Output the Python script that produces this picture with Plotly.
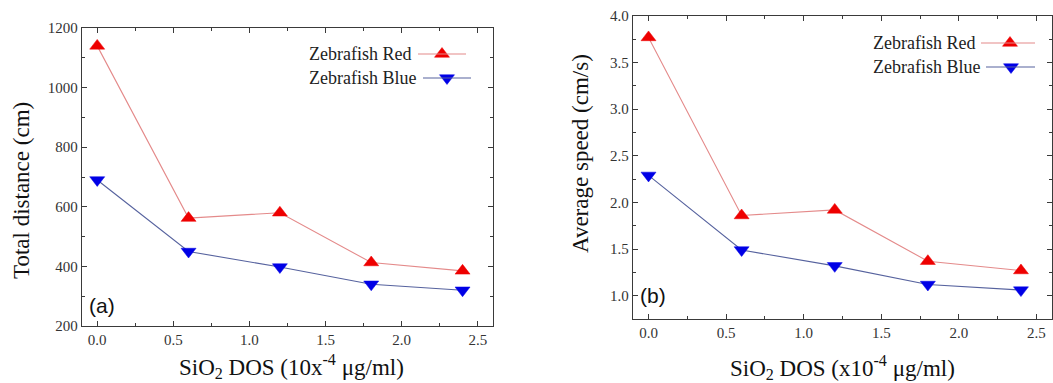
import plotly.graph_objects as go

# SiO2 dose levels (x10^-4 ug/ml)
dose = [0.0, 0.6, 1.2, 1.8, 2.4]

# Total distance travelled (cm)
dist_red = [1140, 562, 580, 413, 385]
dist_blue = [690, 450, 398, 340, 320]

# Average swimming speed (cm/s)
speed_red = [3.77, 1.86, 1.92, 1.37, 1.27]
speed_blue = [2.29, 1.49, 1.32, 1.12, 1.06]

series_names = ["Zebrafish Red", "Zebrafish Blue"]

W, H = 1053, 383
SERIF = "Liberation Serif"
RED_LINE = "#e48a8a"
BLUE_LINE = "#56629e"
RED_MK = "#ee0000"
BLUE_MK = "#0000e6"
FRAME = "#3a3a3a"

fig = go.Figure()


def add_series(x, y, xa, ya, line_c, mk_c, sym):
    fig.add_trace(go.Scatter(
        x=x, y=y, xaxis=xa, yaxis=ya, mode="lines+markers",
        line=dict(color=line_c, width=1.1),
        marker=dict(symbol=sym, size=13, color=mk_c,
                    line=dict(color=mk_c, width=0.5)),
        showlegend=False, hoverinfo="x+y"))


add_series(dose, dist_red, "x", "y", RED_LINE, RED_MK, "triangle-up")
add_series(dose, dist_blue, "x", "y", BLUE_LINE, BLUE_MK, "triangle-down")
add_series(dose, speed_red, "x2", "y2", RED_LINE, RED_MK, "triangle-up")
add_series(dose, speed_blue, "x2", "y2", BLUE_LINE, BLUE_MK, "triangle-down")


def px_x(p):
    return p / W


def px_y(p):
    return 1 - p / H


# Hand-built legend keys (text on the left, line + marker on the right)
legend_rows = [
    # text right-edge x, y, line x0, x1, marker x, colours, symbol, label
    (413, 54, 418, 466, 442, RED_LINE, RED_MK, "triangle-up", series_names[0]),
    (418, 78, 423, 471, 447, BLUE_LINE, BLUE_MK, "triangle-down", series_names[1]),
    (977, 43, 981, 1035, 1010, RED_LINE, RED_MK, "triangle-up", series_names[0]),
    (982, 67, 986, 1035, 1011, BLUE_LINE, BLUE_MK, "triangle-down", series_names[1]),
]
shapes = []
annotations = []
for tx, ty, lx0, lx1, mx, lc, mc, sym, name in legend_rows:
    annotations.append(dict(
        x=px_x(tx), y=px_y(ty), xref="paper", yref="paper",
        xanchor="right", yanchor="middle", showarrow=False, text=name,
        font=dict(family=SERIF, size=18, color="#222")))
    shapes.append(dict(type="line", xref="paper", yref="paper",
                       x0=px_x(lx0), x1=px_x(lx1), y0=px_y(ty), y1=px_y(ty),
                       line=dict(color=lc, width=1.1)))
    fig.add_trace(go.Scatter(
        x=[mx], y=[ty], xaxis="x3", yaxis="y3", mode="markers",
        marker=dict(symbol=sym, size=13, color=mc, line=dict(color=mc, width=0.5)),
        showlegend=False, hoverinfo="skip"))

# Panel letters
annotations.append(dict(x=px_x(87), y=px_y(305), xref="paper", yref="paper",
                        xanchor="left", yanchor="middle", showarrow=False, text="(a)",
                        font=dict(family="Liberation Sans", size=21, color="#111")))
annotations.append(dict(x=px_x(638), y=px_y(295), xref="paper", yref="paper",
                        xanchor="left", yanchor="middle", showarrow=False, text="(b)",
                        font=dict(family="Liberation Sans", size=21, color="#111")))

# Axis titles
title_font = dict(family=SERIF, size=23, color="#111")
axis_titles = [
    (291, 366, 0, "SiO<sub>2</sub> DOS (10x<sup>-4</sup> \u03bcg/ml)"),
    (842, 367, 0, "SiO<sub>2</sub> DOS (x10<sup>-4</sup> \u03bcg/ml)"),
    (22, 191, -90, "Total distance (cm)"),
    (580, 154, -90, "Average speed (cm/s)"),
]
for ax_x, ax_y, ang, txt in axis_titles:
    annotations.append(dict(x=px_x(ax_x), y=px_y(ax_y), xref="paper", yref="paper",
                            xanchor="center", yanchor="middle", showarrow=False,
                            textangle=ang, text=txt, font=title_font))

tick_font = dict(family=SERIF, size=15, color="#333")

common_axis = dict(
    showline=True, linecolor=FRAME, linewidth=1.4, mirror="ticks",
    ticks="inside", ticklen=5, tickwidth=1.2, tickcolor=FRAME,
    showgrid=False, zeroline=False, tickfont=tick_font,
    automargin=False,
)
minor_common = dict(ticks="inside", ticklen=3, tickwidth=1.1, tickcolor=FRAME, showgrid=False)

fig.update_layout(
    width=W, height=H,
    margin=dict(l=0, r=0, t=0, b=0),
    paper_bgcolor="white", plot_bgcolor="rgba(0,0,0,0)",
    showlegend=False,
    xaxis=dict(**common_axis, domain=[px_x(82), px_x(493)], anchor="y",
               range=[-0.1, 2.6], dtick=0.5, tick0=0, tickformat=".1f",
               minor=dict(**minor_common, dtick=0.25)),
    yaxis=dict(**common_axis, domain=[px_y(326), px_y(28)], anchor="x",
               range=[200, 1200], dtick=200, tick0=200,
               minor=dict(**minor_common, dtick=100)),
    xaxis2=dict(**common_axis, domain=[px_x(633), px_x(1052)], anchor="y2",
                range=[-0.1, 2.6], dtick=0.5, tick0=0, tickformat=".1f",
                minor=dict(**minor_common, dtick=0.25)),
    yaxis2=dict(**common_axis, domain=[px_y(319), px_y(16)], anchor="x2",
                range=[0.75, 4.0], dtick=0.5, tick0=1.0, tickformat=".1f",
                minor=dict(**minor_common, dtick=0.25)),
    xaxis3=dict(domain=[0, 1], range=[0, W], visible=False, showticklabels=False,
                fixedrange=True, anchor="y3"),
    yaxis3=dict(domain=[0, 1], range=[H, 0], visible=False, showticklabels=False,
                fixedrange=True, anchor="x3"),
    shapes=shapes,
    annotations=annotations,
)

fig.write_html("out.html")
